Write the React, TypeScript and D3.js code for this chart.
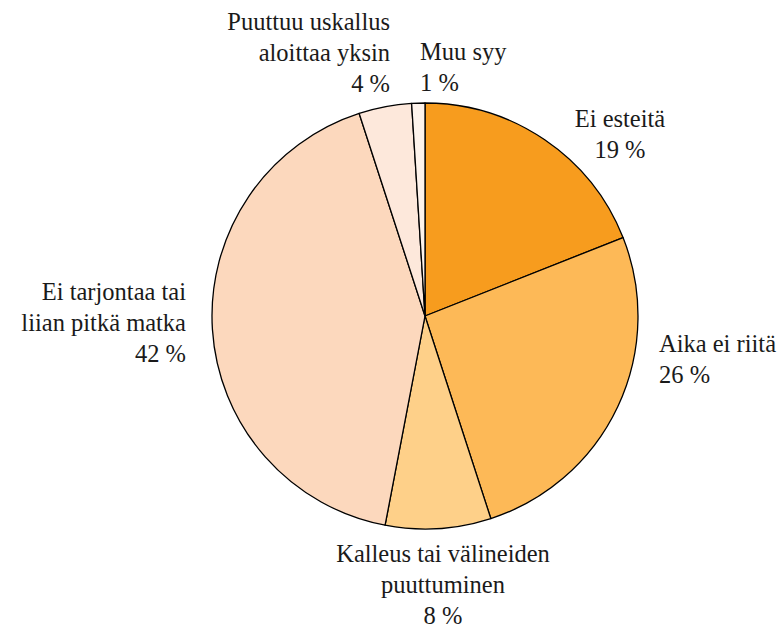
import React from "react";
import * as d3 from "d3";

const categories = [
  "Ei esteitä",
  "Aika ei riitä",
  "Kalleus tai välineiden puuttuminen",
  "Ei tarjontaa tai liian pitkä matka",
  "Puuttuu uskallus aloittaa yksin",
  "Muu syy",
];
const values = [19, 26, 8, 42, 4, 1];
const colors = ["#F79C1E", "#FDB957", "#FED089", "#FCD8BD", "#FDE8DB", "#FEF3EB"];
const labelLines = [
  ["Ei esteitä", "19 %"],
  ["Aika ei riitä", "26 %"],
  ["Kalleus tai välineiden", "puuttuminen", "8 %"],
  ["Ei tarjontaa tai", "liian pitkä matka", "42 %"],
  ["Puuttuu uskallus", "aloittaa yksin", "4 %"],
  ["Muu syy", "1 %"],
];
const labelPos: { x: number; y: number; anchor: string }[] = [
  { x: 620, y: 127, anchor: "middle" },
  { x: 659, y: 352, anchor: "start" },
  { x: 443, y: 562, anchor: "middle" },
  { x: 186, y: 300, anchor: "end" },
  { x: 390, y: 30, anchor: "end" },
  { x: 420, y: 60, anchor: "start" },
];

export default function App() {
  const W = 781, H = 632;
  const cx = 425, cy = 316, r = 213;
  const pie = d3.pie<number>().sort(null).value((d) => d);
  const arcs = pie(values);
  const arc = d3.arc<d3.PieArcDatum<number>>().innerRadius(0).outerRadius(r);
  const lineH = 31;
  return (
    <svg width={W} height={H} style={{ position: "absolute", left: 0, top: 0, background: "#fff" }}>
      <g transform={`translate(${cx},${cy})`}>
        {arcs.map((a, i) => (
          <path key={categories[i]} d={arc(a) || ""} fill={colors[i]} stroke="#000" strokeWidth={1.3} strokeLinejoin="round" />
        ))}
      </g>
      {labelLines.map((lines, i) => (
        <text key={i} textAnchor={labelPos[i].anchor} fill="#1a1a1a"
          style={{ fontFamily: '"Liberation Serif", "Times New Roman", "DejaVu Serif", serif', fontSize: "24.5px" }}>
          {lines.map((l, j) => (
            <tspan key={j} x={labelPos[i].x} y={labelPos[i].y + j * lineH}>{l}</tspan>
          ))}
        </text>
      ))}
    </svg>
  );
}
